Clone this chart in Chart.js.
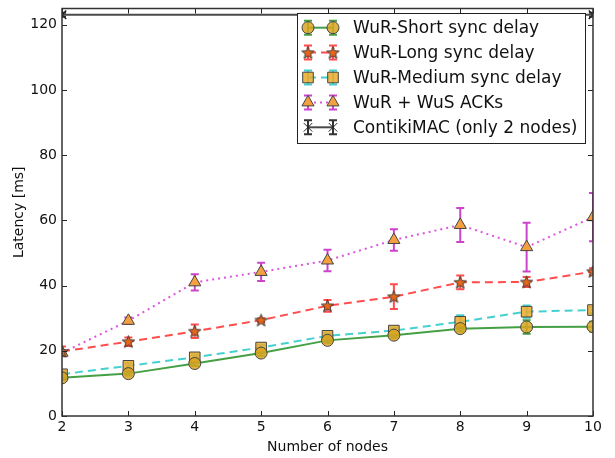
<!DOCTYPE html>
<html>
<head>
<meta charset="utf-8">
<script src="https://cdn.jsdelivr.net/npm/chart.js@4.4.1/dist/chart.umd.min.js"></script>
<style>
  html, body { margin: 0; padding: 0; background: #fff; }
  #wrap { width: 615px; height: 458px; }
</style>
</head>
<body>
<div id="wrap"><canvas id="chart"></canvas></div>
<script>
// ---------------- DATA ----------------
const nodes = [2, 3, 4, 5, 6, 7, 8, 9, 10];

const shortDelay = [11.7, 13.0, 16.1, 19.3, 23.2, 24.8, 26.8, 27.3, 27.4];
const shortErr   = [0.6, 0.6, 0.8, 0.8, 0.8, 0.8, 0.9, 2.1, 1.5];

const longDelay  = [19.8, 22.8, 26.0, 29.4, 33.8, 36.6, 41.0, 41.1, 44.3];
const longErr    = [1.5, 1.3, 2.1, 0.6, 1.8, 3.8, 2.1, 1.5, 1.0];

const mediumDelay = [12.8, 15.4, 18.0, 21.0, 24.6, 26.2, 28.9, 32.0, 32.5];
const mediumErr   = [0.8, 0.8, 0.8, 0.8, 0.8, 0.9, 2.0, 1.9, 0.9];

const ackDelay = [19.4, 29.2, 41.0, 44.2, 47.7, 54.0, 58.6, 51.8, 61.0];
const ackErr   = [0.8, 1.0, 2.5, 2.8, 3.3, 3.3, 5.2, 7.5, 7.4];

const contikiNodes   = [2, 10];
const contikiLatency = [123.1, 123.1];
const contikiErr     = [0.6, 0.6];

const yTicks = [0, 20, 40, 60, 80, 100, 120];
const xTicks = [2, 3, 4, 5, 6, 7, 8, 9, 10];

// ---------------- MARKERS ----------------
function makeStar(size, fill, stroke) {
    const c = document.createElement("canvas");
    c.width = size; c.height = size;
    const g = c.getContext("2d");
    const cx = size / 2, cy = size / 2 + 0.5;
    const R = size / 2 - 1, r = R * 0.42;
    g.beginPath();
    for (let i = 0; i < 10; i++) {
        const a = -Math.PI / 2 + i * Math.PI / 5;
        const rr = i % 2 === 0 ? R : r;
        g.lineTo(cx + rr * Math.cos(a), cy + rr * Math.sin(a));
    }
    g.closePath();
    g.fillStyle = fill;
    g.fill();
    g.strokeStyle = stroke;
    g.lineWidth = 1;
    g.stroke();
    return c;
}
const starImg = makeStar(15, "#e8661a", "#3a3a3a");

const toPts = (xs, ys) => xs.map((x, i) => ({ x: x, y: ys[i] }));

function series(label, ys, errs, xs, style) {
    return Object.assign({
        label: label,
        data: toPts(xs, ys),
        errors: errs,
        fill: false,
        tension: 0,
        borderWidth: 2,
        pointBorderWidth: 1,
        pointBorderColor: "#444",
        clip: 0
    }, style);
}

const datasets = [
    series("WuR-Short sync delay", shortDelay, shortErr, nodes, {
        borderColor: "#45a045", errColor: "#45a045",
        pointStyle: "circle", pointRadius: 6, pointBackgroundColor: "rgba(218,165,32,0.85)"
    }),
    series("WuR-Long sync delay", longDelay, longErr, nodes, {
        borderColor: "#ff4d4d", errColor: "#ff4d4d", borderDash: [8, 5],
        pointStyle: starImg, pointRadius: 7, pointBackgroundColor: "#e8661a"
    }),
    series("WuR-Medium sync delay", mediumDelay, mediumErr, nodes, {
        borderColor: "#45d0d0", errColor: "#45d0d0", borderDash: [8, 5],
        pointStyle: "rect", pointRadius: 7.5, pointBackgroundColor: "rgba(235,170,40,0.85)"
    }),
    series("WuR + WuS ACKs", ackDelay, ackErr, nodes, {
        borderColor: "#dd55dd", errColor: "#cc44cc", borderDash: [2, 4],
        pointStyle: "triangle", pointRadius: 7, pointBackgroundColor: "#f5a040"
    }),
    series("ContikiMAC (only 2 nodes)", contikiLatency, contikiErr, contikiNodes, {
        borderColor: "#4a4a4a", errColor: "#333",
        pointStyle: "crossRot", pointRadius: 6, pointBackgroundColor: "#222",
        pointBorderColor: "#222", pointBorderWidth: 1.5
    })
];

// ---------------- PLUGINS ----------------
function drawErr(ctx, x, y1, y2, color) {
    ctx.save();
    ctx.strokeStyle = color;
    ctx.lineWidth = 2;
    ctx.beginPath();
    ctx.moveTo(x, y1); ctx.lineTo(x, y2);
    ctx.moveTo(x - 4, y1); ctx.lineTo(x + 4, y1);
    ctx.moveTo(x - 4, y2); ctx.lineTo(x + 4, y2);
    ctx.stroke();
    ctx.restore();
}

const errorBars = {
    id: "errorBars",
    beforeDatasetsDraw(chart) {
        const { ctx, chartArea, scales } = chart;
        ctx.save();
        ctx.beginPath();
        ctx.rect(chartArea.left, chartArea.top, chartArea.right - chartArea.left, chartArea.bottom - chartArea.top);
        ctx.clip();
        chart.data.datasets.forEach(ds => {
            ds.data.forEach((p, i) => {
                const e = ds.errors[i];
                const x = scales.x.getPixelForValue(p.x);
                drawErr(ctx, x, scales.y.getPixelForValue(p.y + e), scales.y.getPixelForValue(p.y - e), ds.errColor);
            });
        });
        ctx.restore();
    }
};

const frame = {
    id: "frame",
    afterDraw(chart) {
        const { ctx, chartArea: a, scales } = chart;
        ctx.save();
        ctx.strokeStyle = "#222";
        ctx.lineWidth = 1;
        ctx.beginPath();
        xTicks.forEach(v => {
            const x = Math.round(scales.x.getPixelForValue(v)) + 0.5;
            ctx.moveTo(x, a.bottom); ctx.lineTo(x, a.bottom - 5);
            ctx.moveTo(x, a.top); ctx.lineTo(x, a.top + 5);
        });
        yTicks.forEach(v => {
            const y = Math.round(scales.y.getPixelForValue(v)) + 0.5;
            ctx.moveTo(a.left, y); ctx.lineTo(a.left + 5, y);
            ctx.moveTo(a.right, y); ctx.lineTo(a.right - 5, y);
        });
        ctx.stroke();
        ctx.strokeStyle = "#333";
        ctx.lineWidth = 1.5;
        ctx.strokeRect(a.left, a.top, a.right - a.left, a.bottom - a.top);
        ctx.restore();

        // legend box
        const bx = 297, by = 13, bw = 288, bh = 130, row = 24.9;
        ctx.save();
        ctx.fillStyle = "#fff";
        ctx.fillRect(bx, by, bw, bh);
        ctx.strokeStyle = "#222";
        ctx.lineWidth = 1;
        ctx.strokeRect(bx + 0.5, by + 0.5, bw, bh);
        ctx.font = "17px 'DejaVu Sans'";
        ctx.textBaseline = "middle";
        chart.data.datasets.forEach((ds, i) => {
            const y = 27.7 + i * row;
            const x1 = 308, x2 = 333;
            ctx.save();
            ctx.strokeStyle = ds.borderColor;
            ctx.lineWidth = 2;
            ctx.setLineDash(ds.borderDash || []);
            ctx.beginPath();
            ctx.moveTo(x1, y); ctx.lineTo(x2, y);
            ctx.stroke();
            ctx.restore();
            [x1, x2].forEach(x => {
                drawErr(ctx, x, y - 7, y + 7, ds.errColor);
                ctx.save();
                ctx.fillStyle = ds.pointBackgroundColor;
                ctx.strokeStyle = ds.pointBorderColor;
                Chart.helpers.drawPoint(ctx, {
                    pointStyle: ds.pointStyle, radius: ds.pointRadius,
                    rotation: 0, borderWidth: ds.pointBorderWidth
                }, x, y);
                ctx.restore();
            });
            ctx.fillStyle = "#111";
            ctx.fillText(ds.label, 353, y + 1);
        });
        ctx.restore();
    }
};

// ---------------- CHART ----------------
const tickFont = { family: "DejaVu Sans", size: 14 };
const titleFont = { family: "DejaVu Sans", size: 14 };

new Chart(document.getElementById("chart"), {
    type: "line",
    data: { datasets: datasets },
    plugins: [errorBars, frame],
    options: {
        responsive: true,
        maintainAspectRatio: false,
        animation: false,
        layout: { padding: { top: 4.5, right: 22, left: 0, bottom: 0 } },
        plugins: {
            legend: { display: false },
            tooltip: { enabled: false }
        },
        scales: {
            x: {
                type: "linear",
                min: 2, max: 10,
                afterFit: s => { s.height = 42; s.paddingLeft = 0; s.paddingRight = 0; },
                afterBuildTicks: s => { s.ticks = xTicks.map(v => ({ value: v })); },
                grid: { display: false, drawTicks: false, tickLength: 0 },
                border: { display: false },
                ticks: { color: "#111", font: tickFont, padding: 3, maxRotation: 0 },
                title: { display: true, text: "Number of nodes", color: "#111",
                         font: titleFont, padding: { top: 0, bottom: 2.6 } }
            },
            y: {
                min: 0, max: 125,
                afterFit: s => { s.width = 62; s.paddingTop = 0; s.paddingBottom = 0; },
                afterBuildTicks: s => { s.ticks = yTicks.map(v => ({ value: v })); },
                grid: { display: false, drawTicks: false, tickLength: 0 },
                border: { display: false },
                ticks: { color: "#111", font: tickFont, padding: 5 },
                title: { display: true, text: "Latency [ms]", color: "#111",
                         font: titleFont, padding: { top: 11.2, bottom: 0 } }
            }
        }
    }
});
</script>
</body>
</html>
